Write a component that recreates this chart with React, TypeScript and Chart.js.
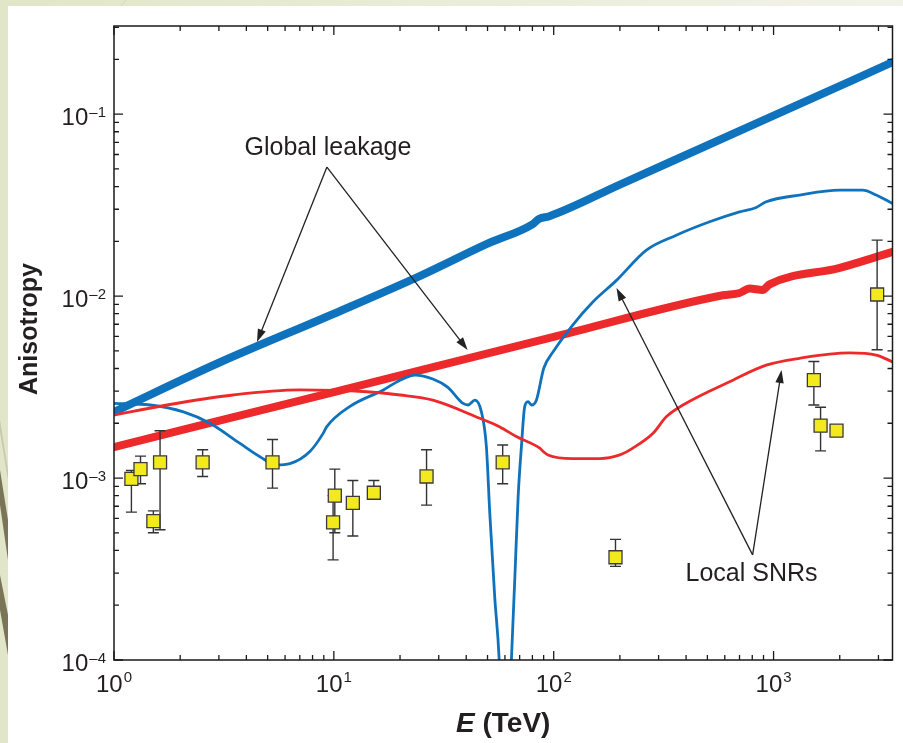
import React, { useEffect, useRef } from "react";
import { Chart, registerables } from "chart.js";

Chart.register(...registerables);

// ---------- axis ranges & ticks ----------
const X_MIN = 1;
const X_MAX = 3475;
const Y_MIN = 1e-4;
const Y_MAX = 0.305;

const xTickValues = [1, 10, 100, 1000];
const xTickExps = ["0", "1", "2", "3"];
const yTickValues = [1e-4, 1e-3, 1e-2, 1e-1];
const yTickExps = ["\u20134", "\u20133", "\u20132", "\u20131"];

const xTitleMain = "E";
const xTitleRest = " (TeV)";
const yTitle = "Anisotropy";

// ---------- Global leakage (thick) ----------
const globalBlueE = [1, 3, 10, 25, 50, 80, 86, 95, 200, 1000, 3475];
const globalBlueA = [2.31e-3, 4.3e-3, 8.0e-3, 1.3e-2, 1.94e-2, 2.48e-2, 2.66e-2, 2.74e-2, 4.1e-2, 9.8e-2, 0.193];

const globalRedE = [1, 10, 100, 588, 700, 778, 891, 959, 2000, 3475];
const globalRedA = [1.48e-3, 2.97e-3, 5.96e-3, 1.01e-2, 1.04e-2, 1.1e-2, 1.08e-2, 1.16e-2, 1.43e-2, 1.75e-2];

// ---------- Local SNRs (thin) ----------
const localBlueE = [1, 1.46, 2.07, 2.73, 3.74, 4.61, 5.49, 6.31, 7.78, 8.94, 9.27, 11.8, 16.8, 20, 23.4, 28.2, 33, 38.7, 40.8, 43.8, 46.9, 49.4, 51.2, 53.9, 56.5, 58.5, 62, 64.2, 66.5, 68.9, 71.3, 73.8, 76.4, 79.2, 83.4, 90.1, 99.4, 122, 151, 193, 264, 361, 512, 700, 834, 926, 1312, 1995, 2546, 2929, 3475];
const localBlueA = [2.57e-3, 2.52e-3, 2.31e-3, 2.0e-3, 1.55e-3, 1.31e-3, 1.18e-3, 1.2e-3, 1.4e-3, 1.76e-3, 1.91e-3, 2.47e-3, 3.05e-3, 3.45e-3, 3.68e-3, 3.5e-3, 3.15e-3, 2.57e-3, 2.52e-3, 2.68e-3, 2.31e-3, 1.49e-3, 6.4e-4, 2.23e-4, 1e-4, 3e-5, 3e-5, 1e-4, 2.75e-4, 7.9e-4, 1.49e-3, 2.47e-3, 2.63e-3, 2.52e-3, 2.68e-3, 4.01e-3, 4.94e-3, 6.93e-3, 9.31e-3, 1.22e-2, 1.79e-2, 2.16e-2, 2.56e-2, 2.9e-2, 3.07e-2, 3.3e-2, 3.59e-2, 3.82e-2, 3.82e-2, 3.59e-2, 3.23e-2];

const localRedE = [1, 1.74, 3.48, 7.0, 14.1, 20, 28.2, 46.1, 56.9, 67.6, 86.4, 89.5, 94.2, 122, 162, 200, 229, 283, 325, 387, 653, 926, 1312, 2215, 2929, 3475];
const localRedA = [2.22e-3, 2.52e-3, 2.86e-3, 3.05e-3, 2.98e-3, 2.86e-3, 2.68e-3, 2.13e-3, 1.91e-3, 1.69e-3, 1.46e-3, 1.4e-3, 1.34e-3, 1.28e-3, 1.28e-3, 1.34e-3, 1.46e-3, 1.76e-3, 2.17e-3, 2.52e-3, 3.45e-3, 4.17e-3, 4.55e-3, 4.87e-3, 4.74e-3, 4.35e-3];

// ---------- measurements ----------
const obsE = [1.2, 1.32, 1.51, 1.62, 2.53, 5.26, 10.1, 9.92, 12.2, 15.2, 26.4, 58.6, 191, 1525, 1636, 1933, 2958];
const obsA = [0.99e-3, 1.12e-3, 0.58e-3, 1.22e-3, 1.22e-3, 1.22e-3, 0.80e-3, 0.57e-3, 0.73e-3, 0.83e-3, 1.02e-3, 1.22e-3, 0.367e-3, 3.45e-3, 1.94e-3, 1.82e-3, 1.02e-2];
const obsHi = [1.1e-3, 1.32e-3, 0.66e-3, 1.82e-3, 1.43e-3, 1.63e-3, 1.12e-3, 0.8e-3, 0.97e-3, 0.97e-3, 1.43e-3, 1.52e-3, 0.46e-3, 4.37e-3, 2.45e-3, null, 2.03e-2];
const obsLo = [0.65e-3, 0.93e-3, 0.5e-3, 0.52e-3, 1.02e-3, 0.88e-3, 0.5e-3, 0.355e-3, 0.48e-3, 0.78e-3, 0.71e-3, 0.93e-3, 0.327e-3, 2.52e-3, 1.41e-3, null, 5.07e-3];

// ---------- annotations (data coordinates) ----------
const annGlobalText = "Global leakage";
const annGlobalPos = [9.4, 0.065];
const annGlobalFrom = [9.3, 0.0512];
const annGlobalTips = [[4.47, 5.59e-3], [40.6, 5.05e-3]];
const annLocalText = "Local SNRs";
const annLocalPos = [794, 2.97e-4];
const annLocalFrom = [803, 3.78e-4];
const annLocalTips = [[193, 1.107e-2], [1087, 3.92e-3]];

const BLUE = "#0f72bd";
const RED = "#ec2a2b";
const INK = "#231f20";
const FONT = '"Liberation Sans", Arial, Helvetica, sans-serif';

const zip = (xs: number[], ys: (number | null)[]) => xs.map((x, i) => ({ x, y: ys[i] as number }));

const decorPlugin = {
  id: "decor",
  beforeDatasetDraw(chart: any, args: any) {
    if (args.index !== 4) return;
    const { ctx, scales } = chart;
    const xs = scales.x, ys = scales.y;
    ctx.save();
    ctx.strokeStyle = "#333";
    ctx.lineWidth = 1.4;
    obsE.forEach((e, i) => {
      const hi = obsHi[i], lo = obsLo[i];
      if (hi == null || lo == null) return;
      const px = xs.getPixelForValue(e);
      const pTop = ys.getPixelForValue(hi);
      const pBot = ys.getPixelForValue(lo);
      ctx.beginPath();
      ctx.moveTo(px, pTop);
      ctx.lineTo(px, pBot);
      ctx.moveTo(px - 5.5, pTop);
      ctx.lineTo(px + 5.5, pTop);
      ctx.moveTo(px - 5.5, pBot);
      ctx.lineTo(px + 5.5, pBot);
      ctx.stroke();
    });
    ctx.restore();
  },
  afterDatasetsDraw(chart: any) {
    const { ctx, chartArea, scales } = chart;
    const xs = scales.x, ys = scales.y;
    const { left, right, top, bottom } = chartArea;
    ctx.save();
    // frame
    ctx.strokeStyle = "#1a1a1a";
    ctx.lineWidth = 1.5;
    ctx.strokeRect(left, top, right - left, bottom - top);
    // ticks
    ctx.lineWidth = 1.3;
    ctx.beginPath();
    for (let d = 1; d <= 1000; d *= 10) {
      for (let m = 1; m <= 9; m++) {
        const v = d * m;
        if (v < X_MIN || v > X_MAX) continue;
        const px = xs.getPixelForValue(v);
        const len = m === 1 ? 9 : 5;
        ctx.moveTo(px, bottom);
        ctx.lineTo(px, bottom - len);
        ctx.moveTo(px, top);
        ctx.lineTo(px, top + len);
      }
    }
    for (let d = 1e-4; d <= 0.11; d *= 10) {
      for (let m = 1; m <= 9; m++) {
        const v = d * m;
        if (v < Y_MIN * 0.999 || v > Y_MAX) continue;
        const py = ys.getPixelForValue(v);
        const len = m === 1 ? 9 : 5;
        ctx.moveTo(left, py);
        ctx.lineTo(left + len, py);
        ctx.moveTo(right, py);
        ctx.lineTo(right - len, py);
      }
    }
    ctx.stroke();

    // tick labels
    ctx.fillStyle = INK;
    ctx.textBaseline = "alphabetic";
    ctx.textAlign = "left";
    const big = `24px ${FONT}`;
    const small = `15px ${FONT}`;
    yTickValues.forEach((v, i) => {
      const py = ys.getPixelForValue(v);
      ctx.font = big;
      const w1 = ctx.measureText("10").width;
      ctx.font = small;
      const w2 = ctx.measureText(yTickExps[i]).width;
      const x0 = left - 8 - (w1 + w2 + 1);
      ctx.font = big;
      ctx.fillText("10", x0, py + 11);
      ctx.font = small;
      ctx.fillText(yTickExps[i], x0 + w1 + 1, py + 3);
    });
    xTickValues.forEach((v, i) => {
      const px = xs.getPixelForValue(v);
      ctx.font = big;
      const w1 = ctx.measureText("10").width;
      ctx.font = small;
      const w2 = ctx.measureText(xTickExps[i]).width;
      const x0 = px - (w1 + w2 + 1) / 2;
      ctx.font = big;
      ctx.fillText("10", x0, bottom + 32);
      ctx.font = small;
      ctx.fillText(xTickExps[i], x0 + w1 + 1, bottom + 22);
    });

    // axis titles
    ctx.font = `italic bold 28px ${FONT}`;
    const wE = ctx.measureText(xTitleMain).width;
    ctx.font = `bold 28px ${FONT}`;
    const wR = ctx.measureText(xTitleRest).width;
    const cx = (left + right) / 2;
    const xt0 = cx - (wE + wR) / 2;
    ctx.font = `italic bold 28px ${FONT}`;
    ctx.fillText(xTitleMain, xt0, bottom + 72);
    ctx.font = `bold 28px ${FONT}`;
    ctx.fillText(xTitleRest, xt0 + wE, bottom + 72);

    ctx.save();
    ctx.translate(30, 329);
    ctx.rotate(-Math.PI / 2);
    ctx.textAlign = "center";
    ctx.textBaseline = "middle";
    ctx.font = `bold 25px ${FONT}`;
    ctx.fillText(yTitle, 0, 0);
    ctx.restore();

    // annotations
    const drawArrow = (from: number[], to: number[]) => {
      const x1 = xs.getPixelForValue(from[0]), y1 = ys.getPixelForValue(from[1]);
      const x2 = xs.getPixelForValue(to[0]), y2 = ys.getPixelForValue(to[1]);
      const ang = Math.atan2(y2 - y1, x2 - x1);
      const L = 13, W = 4.2;
      ctx.strokeStyle = "#222";
      ctx.lineWidth = 1.3;
      ctx.beginPath();
      ctx.moveTo(x1, y1);
      ctx.lineTo(x2 - Math.cos(ang) * L * 0.8, y2 - Math.sin(ang) * L * 0.8);
      ctx.stroke();
      ctx.fillStyle = "#222";
      ctx.beginPath();
      ctx.moveTo(x2, y2);
      ctx.lineTo(x2 - Math.cos(ang) * L - Math.sin(ang) * W, y2 - Math.sin(ang) * L + Math.cos(ang) * W);
      ctx.lineTo(x2 - Math.cos(ang) * L + Math.sin(ang) * W, y2 - Math.sin(ang) * L - Math.cos(ang) * W);
      ctx.closePath();
      ctx.fill();
    };
    annGlobalTips.forEach((t) => drawArrow(annGlobalFrom, t));
    annLocalTips.forEach((t) => drawArrow(annLocalFrom, t));
    ctx.fillStyle = INK;
    ctx.font = `25px ${FONT}`;
    ctx.textAlign = "center";
    ctx.textBaseline = "middle";
    ctx.fillText(annGlobalText, xs.getPixelForValue(annGlobalPos[0]), ys.getPixelForValue(annGlobalPos[1]));
    ctx.fillText(annLocalText, xs.getPixelForValue(annLocalPos[0]), ys.getPixelForValue(annLocalPos[1]));
    ctx.restore();
  },
};

export default function App() {
  const ref = useRef<HTMLCanvasElement | null>(null);
  useEffect(() => {
    if (!ref.current) return;
    const chart = new Chart(ref.current, {
      type: "line",
      data: {
        datasets: [
          {
            label: "Global leakage (blue)",
            data: zip(globalBlueE, globalBlueA),
            borderColor: BLUE,
            borderWidth: 8,
            pointRadius: 0,
            cubicInterpolationMode: "monotone",
            borderCapStyle: "round",
            borderJoinStyle: "round",
            order: 4,
          },
          {
            label: "Global leakage (red)",
            data: zip(globalRedE, globalRedA),
            borderColor: RED,
            borderWidth: 8,
            pointRadius: 0,
            cubicInterpolationMode: "monotone",
            borderCapStyle: "round",
            borderJoinStyle: "round",
            order: 3,
          },
          {
            label: "Local SNRs (blue)",
            data: zip(localBlueE, localBlueA),
            borderColor: BLUE,
            borderWidth: 2.8,
            pointRadius: 0,
            cubicInterpolationMode: "monotone",
            clip: 0,
            order: 2,
          },
          {
            label: "Local SNRs (red)",
            data: zip(localRedE, localRedA),
            borderColor: RED,
            borderWidth: 2.8,
            pointRadius: 0,
            cubicInterpolationMode: "monotone",
            order: 1,
          },
          {
            label: "Data",
            data: zip(obsE, obsA),
            showLine: false,
            pointStyle: "rect",
            pointRadius: 9.2,
            pointBackgroundColor: "#f3ea1e",
            pointBorderColor: "#3a3a3a",
            pointBorderWidth: 1.3,
            order: 0,
          },
        ],
      },
      options: {
        animation: false,
        responsive: false,
        events: [],
        layout: { padding: { top: 26, right: 10, left: 0, bottom: 0 } },
        plugins: {
          legend: { display: false },
          tooltip: { enabled: false },
          title: { display: false },
        },
        scales: {
          x: {
            type: "logarithmic",
            min: X_MIN,
            max: X_MAX,
            grid: { display: false },
            border: { display: false },
            ticks: { display: false },
            afterFit: (s: any) => {
              s.height = 83;
            },
          },
          y: {
            type: "logarithmic",
            min: Y_MIN,
            max: Y_MAX,
            grid: { display: false },
            border: { display: false },
            ticks: { display: false },
            afterFit: (s: any) => {
              s.width = 114;
            },
          },
        },
      },
      plugins: [decorPlugin],
    } as any);
    return () => chart.destroy();
  }, []);

  return (
    <div style={{ position: "fixed", left: 0, top: 0, width: 903, height: 743, overflow: "hidden", background: "linear-gradient(to right, #e1e6c8, #f2f3e8)" }}>
      <svg width={903} height={743} style={{ position: "absolute", left: 0, top: 0 }}>
        <polygon points="0,470 8,520 8,560 0,505" fill="#7b7558" />
        <polygon points="0,575 8,615 8,655 0,610" fill="#7b7558" />
        <polygon points="0,420 8,470 8,480 0,432" fill="#c9c9ad" />
        <line x1={121} y1={6} x2={126} y2={0} stroke="#d4d6c0" strokeWidth={1} />
      </svg>
      <div style={{ position: "absolute", left: 8, top: 6, right: 0, bottom: 0, background: "#ffffff" }} />
      <canvas ref={ref} width={903} height={743} style={{ position: "absolute", left: 0, top: 0, display: "block" }} />
    </div>
  );
}
